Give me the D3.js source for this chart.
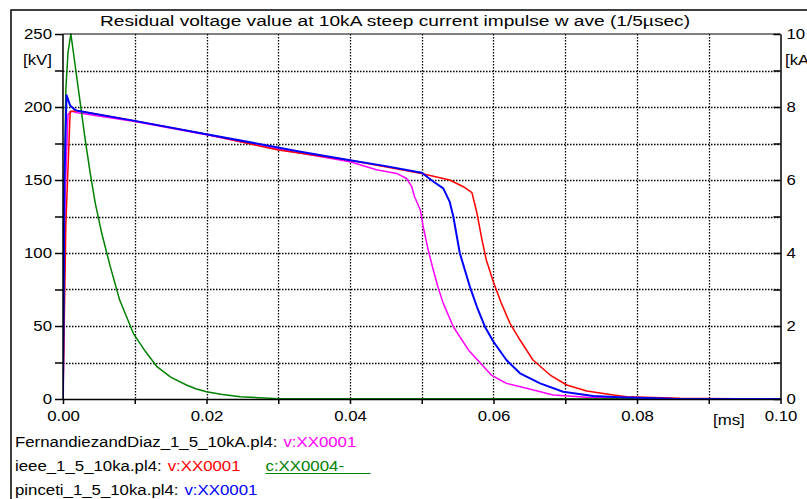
<!DOCTYPE html>
<html>
<head>
<meta charset="utf-8">
<script src="https://cdn.jsdelivr.net/npm/d3@7"></script>
<style>
  body { margin: 0; background: #fff; }
  svg { display: block; font-family: Arial, "Liberation Sans", sans-serif; }
</style>
</head>
<body>
<svg id="chart"></svg>
<script>
// values: time in ms, voltage in kV, current in kA
const fdTime = [0, 0.0003, 0.0007, 0.0012, 0.002, 0.01, 0.02, 0.03, 0.04, 0.0437, 0.0465, 0.0479, 0.0486, 0.049, 0.0498, 0.0502, 0.0509, 0.0516, 0.0523, 0.053, 0.0544, 0.0565, 0.0597, 0.0618, 0.0646, 0.0683, 0.073, 0.08, 0.1];
const fdVolt = [0, 140, 195, 197, 196, 190, 181, 171, 162.5, 157, 154.5, 151, 145.5, 138.5, 129.5, 118, 102, 88.5, 76, 65.5, 49.5, 33.6, 16.4, 10.7, 7.3, 2.7, 1.2, 0.2, 0];

const ieeeTime = [0, 0.0004, 0.001, 0.002, 0.01, 0.02, 0.03, 0.04, 0.0498, 0.0539, 0.0558, 0.057, 0.0577, 0.0584, 0.059, 0.06, 0.0611, 0.0623, 0.0637, 0.0655, 0.0679, 0.0702, 0.073, 0.0767, 0.0786, 0.086, 0.1];
const ieeeVolt = [0, 120, 197, 197.5, 190.5, 181.4, 170.5, 163.5, 154.6, 150, 145.4, 141.3, 127.2, 108.9, 95.2, 80, 65.5, 51.8, 40.4, 26.7, 16.4, 9.6, 5.5, 2.7, 1.6, 0.5, 0];

const ieeeCurTime = [0, 0.0002, 0.0004, 0.0007, 0.0011, 0.0031, 0.0038, 0.0045, 0.0054, 0.0066, 0.0079, 0.0098, 0.0115, 0.0131, 0.015, 0.0172, 0.0185, 0.02, 0.022, 0.0247, 0.03, 0.1];
const ieeeCur = [0, 6, 8.5, 9.5, 10, 7.1, 6.18, 5.36, 4.54, 3.62, 2.71, 1.8, 1.3, 0.885, 0.6, 0.384, 0.28, 0.2, 0.13, 0.063, 0.01, 0];

const pinTime = [0, 0.0002, 0.0005, 0.001, 0.0017, 0.002, 0.01, 0.02, 0.0331, 0.04, 0.045, 0.05, 0.0516, 0.053, 0.0539, 0.0544, 0.0553, 0.0567, 0.0577, 0.0588, 0.06, 0.0618, 0.0637, 0.0665, 0.0697, 0.0739, 0.0776, 0.085, 0.1];
const pinVolt = [0, 150, 208, 201, 198, 197.5, 190.5, 181.4, 169.4, 163.5, 159.5, 155, 149, 144.3, 135, 125, 100, 77, 63, 49.5, 39.2, 26.7, 17.6, 10.7, 5, 2, 1.2, 0.2, 0];

const xTicks = d3.range(0, 0.1001, 0.01);
const voltTicks = d3.range(0, 251, 25);
const curTicks = d3.range(0, 11, 1);

const titleText = 'Residual voltage value at 10kA steep current impulse w ave (1/5\u00b5sec)';
const legendFiles = ['FernandiezandDiaz_1_5_10kA.pl4:', 'ieee_1_5_10ka.pl4:', 'pinceti_1_5_10ka.pl4:'];
const legendSignals = ['v:XX0001', 'v:XX0001', 'v:XX0001'];
const legendColors = ['#ff00ff', '#ff0000', '#0000ff'];
const extraSignal = 'c:XX0004-';

// layout
const width = 807;
const height = 499;
const plot = { left: 63, right: 780.5, top: 34, bottom: 399 };
const stretchK = 1.2;
const green = '#008000';

const svg = d3.select('#chart')
  .attr('width', width)
  .attr('height', height);

// outer frame (runs off the page at right and bottom)
svg.append('rect')
  .attr('x', 11).attr('y', 10)
  .attr('width', 830).attr('height', 520)
  .attr('fill', 'none')
  .attr('stroke', '#000')
  .attr('stroke-width', 1.5);

const x = d3.scaleLinear().domain([0, 0.1]).range([plot.left, plot.right]);
const yV = d3.scaleLinear().domain([0, 250]).range([plot.bottom, plot.top]);
const yI = d3.scaleLinear().domain([0, 10]).range([plot.bottom, plot.top]);

// dotted grid
const grid = svg.append('g')
  .attr('stroke', '#000')
  .attr('stroke-width', 1.3)
  .attr('stroke-dasharray', '1.5,1.5');

grid.selectAll('.vg')
  .data(xTicks.slice(1, -1))
  .enter().append('line')
  .attr('x1', d => Math.round(x(d)) + 0.5).attr('x2', d => Math.round(x(d)) + 0.5)
  .attr('y1', plot.top).attr('y2', plot.bottom);

grid.selectAll('.hg')
  .data(voltTicks.slice(1, -1))
  .enter().append('line')
  .attr('x1', plot.left).attr('x2', plot.right)
  .attr('y1', d => Math.round(yV(d)) + 0.5).attr('y2', d => Math.round(yV(d)) + 0.5);

// curves
svg.append('clipPath').attr('id', 'clip')
  .append('rect')
  .attr('x', plot.left).attr('y', plot.top - 1)
  .attr('width', plot.right - plot.left).attr('height', plot.bottom - plot.top + 1);

const curves = [
  { t: fdTime, v: fdVolt, y: yV, color: '#ff00ff', w: 1.5 },
  { t: ieeeTime, v: ieeeVolt, y: yV, color: '#ff0000', w: 1.5 },
  { t: ieeeCurTime, v: ieeeCur, y: yI, color: green, w: 1.5 },
  { t: pinTime, v: pinVolt, y: yV, color: '#0000ff', w: 2 }
];

const cg = svg.append('g').attr('clip-path', 'url(#clip)');
curves.forEach(c => {
  const line = d3.line()
    .x((d, i) => x(c.t[i]))
    .y(d => c.y(d));
  cg.append('path')
    .datum(c.v)
    .attr('d', line)
    .attr('fill', 'none')
    .attr('stroke', c.color)
    .attr('stroke-width', c.w)
    .attr('stroke-linejoin', 'round');
});

// axes
const fmtV = d => (d % 50 === 0 ? d : '');
const fmtI = d => (d % 2 === 0 ? d : '');
const fmtX = d => (Math.round(d * 100) % 2 === 0 ? d.toFixed(2) : '');

const leftAxis = svg.append('g')
  .attr('transform', `translate(${plot.left},0)`)
  .call(d3.axisLeft(yV).tickValues(voltTicks).tickFormat(fmtV).tickSize(8).tickPadding(3));

const rightAxis = svg.append('g')
  .attr('transform', `translate(${plot.right},0)`)
  .call(d3.axisRight(yI).tickValues(curTicks).tickFormat(fmtI).tickSizeInner(-7).tickSizeOuter(0).tickPadding(6));

const bottomAxis = svg.append('g')
  .attr('transform', `translate(0,${plot.bottom})`)
  .call(d3.axisBottom(x).tickValues(xTicks).tickFormat(fmtX).tickSizeInner(5).tickSizeOuter(0).tickPadding(7));

[leftAxis, rightAxis, bottomAxis].forEach(a => {
  a.select('.domain').attr('stroke', '#000').attr('stroke-width', 1.5);
  a.selectAll('.tick line').attr('stroke', '#000').attr('stroke-width', 1.5);
  a.selectAll('text').attr('font-size', 14).attr('fill', '#000').attr('font-family', null);
});
leftAxis.select('.domain').attr('d', `M0,${plot.bottom}V${plot.top}`);

// top border
svg.append('line')
  .attr('x1', plot.left).attr('x2', plot.right)
  .attr('y1', plot.top).attr('y2', plot.top)
  .attr('stroke', '#000').attr('stroke-width', 1.2);

// units
svg.append('text').attr('x', 52).attr('y', 65).attr('text-anchor', 'end')
  .attr('font-size', 14).text('[kV]');
svg.append('text').attr('x', 785).attr('y', 65)
  .attr('font-size', 14).text('[kA]');
svg.append('text').attr('x', 713).attr('y', 425)
  .attr('font-size', 14).text('[ms]');

// title
svg.append('text')
  .attr('class', 'title')
  .attr('x', 100).attr('y', 26)
  .attr('font-size', 14)
  .text(titleText);

// legend
const legend = svg.append('g').attr('font-size', 14);
legendFiles.forEach((f, i) => {
  const yy = 447 + i * 24;
  const t1 = legend.append('text').attr('class', 'lg').attr('x', 15).attr('y', yy).attr('fill', '#000').text(f);
  const w1 = t1.node().getComputedTextLength() * stretchK;
  const t2 = legend.append('text').attr('class', 'lg').attr('x', 15 + w1 + 6).attr('y', yy)
    .attr('fill', legendColors[i]).text(legendSignals[i]);
  if (i === 1) {
    const w2 = t2.node().getComputedTextLength() * stretchK;
    const gx = 15 + w1 + 6 + w2 + 25;
    legend.append('text').attr('class', 'lg').attr('x', gx).attr('y', yy)
      .attr('fill', green).text(extraSignal);
    legend.append('line')
      .attr('x1', gx).attr('x2', gx + 105)
      .attr('y1', yy + 2.5).attr('y2', yy + 2.5)
      .attr('stroke', green).attr('stroke-width', 1);
  }
});

// stretch all text horizontally like the original metafile rendering
svg.selectAll('text').each(function() {
  const w = this.getComputedTextLength();
  d3.select(this).attr('textLength', w * stretchK).attr('lengthAdjust', 'spacingAndGlyphs');
});
svg.select('.title').attr('textLength', 590);
</script>
</body>
</html>
